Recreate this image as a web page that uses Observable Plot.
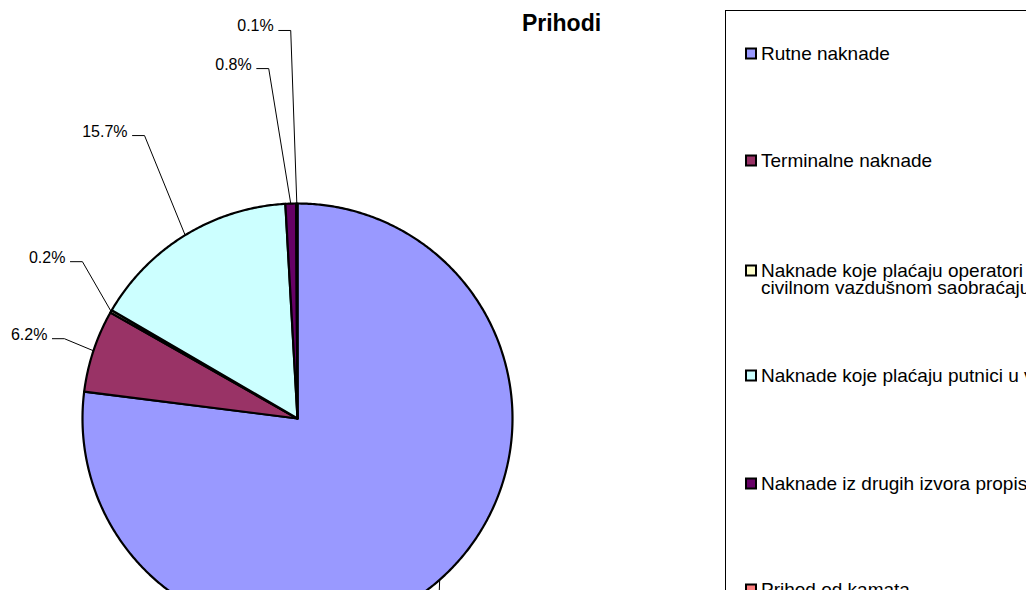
<!DOCTYPE html>
<html><head><meta charset="utf-8">
<script src="https://cdn.jsdelivr.net/npm/d3@7"></script>
<script src="https://cdn.jsdelivr.net/npm/@observablehq/plot@0.6"></script>
<style>
html,body{margin:0;padding:0;overflow:hidden;background:#fff;}
#wrap{position:relative;width:1026px;height:590px;overflow:hidden;}
#overlay{position:absolute;left:0;top:0;pointer-events:none;}
</style></head><body><div id="wrap"></div>
<script>
// ---- data ----
const title = "Prihodi";
const categories = [
  "Rutne naknade",
  "Terminalne naknade",
  "Naknade koje plaćaju operatori u\ncivilnom vazdušnom saobraćaju",
  "Naknade koje plaćaju putnici u vazdušnom saobraćaju",
  "Naknade iz drugih izvora propisanih zakonom",
  "Prihod od kamata"
];
const values = [77.0, 6.2, 0.2, 15.7, 0.8, 0.1];
const colors = ["#9999FF", "#993366", "#FFFFCC", "#CCFFFF", "#660066", "#FF8080"];

// ---- layout ----
const R = 215, cx = 297, cy = 418;
// label elbow placement: [angle clockwise from top (deg), radius factor]
const labelPlacement = [[147.8, 1.221], [288.9, 1.146], [306.1, 1.238], [331.6, 1.496], [355.3, 1.633], [359.0, 1.805]];
const legendBaselines = [60, 167, 277, 382, 490, 596];
const font = "'Liberation Sans', Arial, Helvetica, sans-serif";

const total = d3.sum(values);
let acc = 0;
const slices = categories.map((c, i) => {
  const a0 = acc / total * 360; acc += values[i]; const a1 = acc / total * 360;
  return {category: c, value: values[i], a0, a1, mid: (a0 + a1) / 2, i};
});
const rad = d => d * Math.PI / 180;
const polar = (deg, r) => [r * Math.sin(rad(deg)), r * Math.cos(rad(deg))];

const piePts = [];
for (const s of slices) {
  piePts.push({category: s.category, x: 0, y: 0});
  const n = Math.max(2, Math.ceil((s.a1 - s.a0) / 0.5) + 1);
  for (let k = 0; k < n; k++) {
    const a = s.a0 + (s.a1 - s.a0) * k / (n - 1);
    const [x, y] = polar(a, 1);
    piePts.push({category: s.category, x, y});
  }
}
const leaderPts = [], labels = [];
slices.forEach((s, i) => {
  const [ex, ey] = polar(s.mid, 1);
  const [bx, by] = polar(labelPlacement[i][0], labelPlacement[i][1]);
  leaderPts.push({category: s.category, x: ex, y: ey});
  leaderPts.push({category: s.category, x: bx, y: by});
  leaderPts.push({category: s.category, x: bx - 12 / R, y: by});
  labels.push({x: bx, y: by, text: d3.format(".1f")(s.value / total * 100) + "%"});
});

const plot = Plot.plot({
  width: 1026, height: 590, margin: 0,
  x: {domain: [-1, 1], range: [cx - R, cx + R], axis: null},
  y: {domain: [-1, 1], range: [cy + R, cy - R], axis: null},
  color: {type: "ordinal", domain: categories, range: colors},
  style: {fontFamily: font, background: "white"},
  marks: [
    Plot.line(piePts, {x: "x", y: "y", z: "category", fill: "category", stroke: "black", strokeWidth: 2.2, curve: "linear-closed", strokeLinejoin: "round"}),
    Plot.line(leaderPts, {x: "x", y: "y", z: "category", stroke: "black", strokeWidth: 1}),
    Plot.text(labels, {x: "x", y: "y", text: "text", textAnchor: "end", lineAnchor: "bottom", dx: -17, dy: 1, fontSize: 16, fill: "black"})
  ]
});
const wrap = document.getElementById("wrap");
wrap.appendChild(plot);

// overlay: title + legend
const color = plot.scale("color");
const svg = d3.select(wrap).append("svg").attr("id", "overlay")
  .attr("width", 1026).attr("height", 590).style("font-family", font);
svg.append("text").attr("x", 561.5).attr("y", 31).attr("text-anchor", "middle")
  .attr("font-weight", "bold").attr("font-size", 23).attr("fill", "black").text(title);
svg.append("rect").attr("x", 725.5).attr("y", 10.5).attr("width", 420).attr("height", 700)
  .attr("fill", "none").attr("stroke", "black").attr("stroke-width", 1);
categories.forEach((c, i) => {
  const b = legendBaselines[i];
  svg.append("rect").attr("x", 746).attr("y", b - 11.5).attr("width", 10).attr("height", 10)
    .attr("fill", color.apply(c)).attr("stroke", "black").attr("stroke-width", 2);
  const t = svg.append("text").attr("x", 761).attr("y", b).attr("font-size", 19).attr("fill", "black");
  c.split("\n").forEach((line, j) => {
    t.append("tspan").attr("x", 761).attr("y", b + j * 17).text(line);
  });
});
</script></body></html>
